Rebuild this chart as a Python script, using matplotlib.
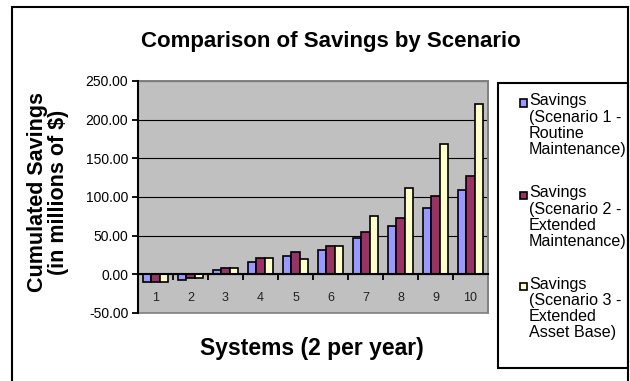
import matplotlib.pyplot as plt
import numpy as np
from matplotlib.patches import Rectangle
from matplotlib.ticker import FormatStrFormatter

systems = [1, 2, 3, 4, 5, 6, 7, 8, 9, 10]
scenario1 = [-10.4, -7.8, 5.2, 15.6, 23.4, 31.0, 46.8, 62.3, 85.7, 109.0]
scenario2 = [-10.0, -4.3, 7.8, 20.8, 28.6, 36.0, 54.5, 72.7, 101.3, 127.3]
scenario3 = [-10.4, -5.0, 7.8, 20.8, 20.3, 36.0, 75.3, 111.7, 168.4, 220.8]
labels = ["Savings\n(Scenario 1 -\nRoutine\nMaintenance)",
          "Savings\n(Scenario 2 -\nExtended\nMaintenance)",
          "Savings\n(Scenario 3 -\nExtended\nAsset Base)"]
colors = ["#9999FF", "#993366", "#FFFFCC"]

plt.rcParams['font.family'] = ['Liberation Sans', 'DejaVu Sans']

W, H = 630, 381
fig = plt.figure(figsize=(6.3, 3.81), dpi=100)
ax = fig.add_axes([138/W, 1-313/H, 350/W, 232/H])
ax.set_facecolor("#C0C0C0")

x = np.arange(len(systems))
width = 0.24
series = [scenario1, scenario2, scenario3]
for i, s in enumerate(series):
    ax.bar(x + (i-1)*width, s, width, color=colors[i], edgecolor="black",
           linewidth=1.2, zorder=3)

ax.set_ylim(-50, 250)
ax.set_xlim(-0.5, len(systems)-0.5)
ax.set_yticks(np.arange(-50, 251, 50))
ax.yaxis.set_major_formatter(FormatStrFormatter('%.2f'))
ax.grid(axis='y', color='black', linewidth=0.8, zorder=0)
ax.set_axisbelow(True)

# x axis sits at zero, category numbers below it inside the grey area
ax.spines['bottom'].set_position(('data', 0))
ax.spines['bottom'].set_linewidth(1.5)
ax.spines['left'].set_linewidth(1.5)
for side in ['top', 'right']:
    ax.spines[side].set_color('#808080')
    ax.spines[side].set_linewidth(1.2)
ax.add_patch(Rectangle((0, 0), 1, 1, transform=ax.transAxes, fill=False,
                       edgecolor='#808080', linewidth=1.2, zorder=1, clip_on=False))
ax.spines['left'].set_zorder(5)
ax.spines['bottom'].set_zorder(5)

ax.set_xticks(x)
ax.set_xticklabels([str(v) for v in systems], fontsize=9)
ax.set_xticks(np.arange(0.5, len(systems)-0.5, 1), minor=True)
ax.tick_params(axis='x', which='major', length=0, pad=13, colors='#222222')
ax.tick_params(axis='x', which='minor', length=4, width=1.3, direction='out')
ax.tick_params(axis='y', length=4, width=1.3, labelsize=10, pad=3)

fig.text(48/W, 1-192/H, "Cumulated Savings\n(in millions of $)", fontsize=15.5,
         fontweight='bold', ha='center', va='center', rotation=90, linespacing=1.05)
fig.text(312/W, 1-348/H, "Systems (2 per year)", fontsize=16.5, fontweight='bold',
         ha='center', va='center')
fig.text(331/W, 1-42/H, "Comparison of Savings by Scenario", fontsize=16,
         fontweight='bold', ha='center', va='center')

# legend box drawn by hand so the swatch sits on the first text line
fig.patches.append(Rectangle((498/W, 1-368/H), 130/W, 285/H, transform=fig.transFigure,
                             fill=False, edgecolor='black', linewidth=1.5))
first_line_y = [103, 195, 286]
for i, lab in enumerate(labels):
    yc = first_line_y[i]
    fig.patches.append(Rectangle((520/W, 1-(yc+3.5)/H), 7/W, 7/H,
                                 transform=fig.transFigure, facecolor=colors[i],
                                 edgecolor='black', linewidth=1.2))
    fig.text(529/W, 1-(yc-9.5)/H, lab, fontsize=11.6, ha='left', va='top',
             linespacing=1.1)

# chart border
fig.patches.append(Rectangle((12/W, -0.01), 616/W, 1-7/H+0.01, transform=fig.transFigure,
                             fill=False, edgecolor='black', linewidth=1.5))

fig.savefig("out.png", dpi=100)
